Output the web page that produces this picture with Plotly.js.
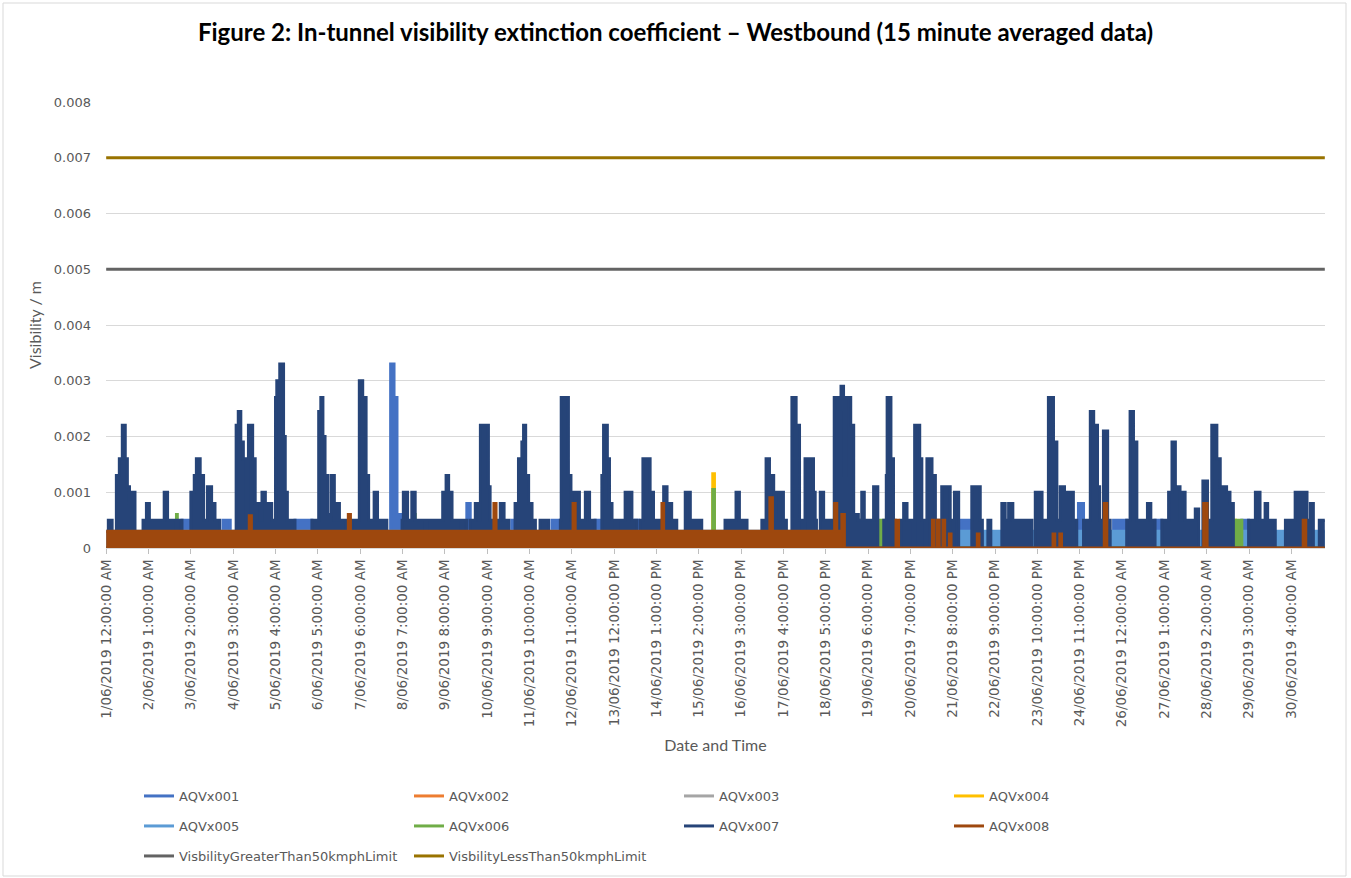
<!DOCTYPE html>
<html><head><meta charset="utf-8">
<script src="https://cdn.plot.ly/plotly-3.0.1.min.js"></script>
<style>html,body{margin:0;padding:0;background:#fff}#chart{width:1351px;height:878px}</style>
</head><body><div id="chart"></div>
<script>
// ---- 15-minute samples, 1 to 30 June 2019 (index 0 .. 2879) ----
const lastIndex = 2879;

// category-axis labels (every 100th sample)
const tickIndex = [0,100,200,300,400,500,600,700,800,900,1000,1100,1200,1300,1400,1500,1600,1700,1800,1900,2000,2100,2200,2300,2400,2500,2600,2700,2800];
const tickLabels = ["1/06/2019 12:00:00 AM","2/06/2019 1:00:00 AM","3/06/2019 2:00:00 AM","4/06/2019 3:00:00 AM","5/06/2019 4:00:00 AM","6/06/2019 5:00:00 AM","7/06/2019 6:00:00 AM","8/06/2019 7:00:00 AM","9/06/2019 8:00:00 AM","10/06/2019 9:00:00 AM","11/06/2019 10:00:00 AM","12/06/2019 11:00:00 AM","13/06/2019 12:00:00 PM","14/06/2019 1:00:00 PM","15/06/2019 2:00:00 PM","16/06/2019 3:00:00 PM","17/06/2019 4:00:00 PM","18/06/2019 5:00:00 PM","19/06/2019 6:00:00 PM","20/06/2019 7:00:00 PM","21/06/2019 8:00:00 PM","22/06/2019 9:00:00 PM","23/06/2019 10:00:00 PM","24/06/2019 11:00:00 PM","26/06/2019 12:00:00 AM","27/06/2019 1:00:00 AM","28/06/2019 2:00:00 AM","29/06/2019 3:00:00 AM","30/06/2019 4:00:00 AM"];
const yTickValues = [0,0.001,0.002,0.003,0.004,0.005,0.006,0.007,0.008];
const yTickLabels = ["0","0.001","0.002","0.003","0.004","0.005","0.006","0.007","0.008"];

// each series: [start sample index, value held until next start]
const aqv001_steps = [[0,0],[179,0.0005],[200,0],[276,0.0005],[293,0],[446,0.0005],[486,0],[672,0.0033],[680,0.0027],[687,0.0006],[699,0],[852,0.0008],[860,0],[958,0.0005],[966,0],[1053,0.0005],[1073,0],[1155,0.0005],[1171,0],[1250,0.0005],[1258,0],[2020,0.0005],[2047,0],[2297,0.0008],[2309,0],[2380,0.0005],[2411,0],[2478,0.0005],[2494,0],[2683,0.0005],[2699,0]];
const aqv002_steps = [[0,0]];
const aqv003_steps = [[0,0]];
const aqv004_steps = [[0,0],[1433,0.00133],[1437,0],[2664,0.0005],[2668,0]];
const aqv005_steps = [[0,0.0003]];
const aqv006_steps = [[0,0],[166,0.0006],[168,0],[728,0.0006],[730,0],[1433,0.00105],[1437,0],[1775,0.0005],[1781,0],[1825,0.0005],[1837,0],[1875,0.00024],[1880,0],[2665,0.0005],[2683,0]];
const aqv007_steps = [
[0,0],[5,0.0005],[14,0],[24,0.0013],[31,0.0016],[38,0.0022],[45,0.0016],[50,0.0011],[55,0.0008],[61,0.001],[68,0],
[87,0.0005],[95,0.0008],[102,0.0005],[137,0.001],[145,0.0005],[165,0],[169,0.0005],[179,0],
[200,0.001],[208,0.0013],[213,0.0016],[222,0.0013],[230,0.0005],[239,0.0011],[249,0.0008],[257,0.0005],[268,0],
[307,0.0022],[312,0.00245],[318,0.0019],[324,0.0016],[331,0.0005],[336,0.0022],[346,0.0016],[352,0.0008],[364,0.0005],[368,0.001],[376,0.0008],[391,0.0005],
[400,0.0027],[403,0.003],[410,0.0033],[419,0.002],[423,0.001],[428,0.0005],[446,0],
[486,0.0005],[502,0.00245],[507,0.0027],[512,0.002],[517,0.0013],[523,0.0006],[531,0.0013],[539,0.0005],[545,0.0008],[551,0.0005],[567,0],
[580,0.0005],[598,0.003],[606,0.0027],[614,0.0013],[620,0.0005],[633,0.001],[641,0.0005],[663,0],
[699,0.0005],[702,0.001],[712,0.0005],[722,0.001],[730,0.0005],[754,0],
[758,0.0005],[795,0.001],[803,0.0013],[809,0.001],[817,0.0005],[838,0],
[843,0.0005],[852,0],[860,0.0005],[872,0.0008],[880,0.0005],[884,0.0022],[903,0.0011],[907,0.0005],[931,0.0008],[940,0.0005],[951,0],
[966,0.0008],[974,0.0016],[982,0.0019],[986,0.0022],[991,0.0013],[998,0.0008],[1006,0.0005],[1014,0],
[1025,0.0005],[1045,0],[1073,0.0005],[1075,0.0027],[1092,0.0013],[1098,0.0005],[1100,0.001],[1118,0.0005],[1132,0.001],[1142,0.0005],[1155,0],
[1171,0.0013],[1175,0.0022],[1184,0.0016],[1189,0.0008],[1195,0.0005],[1203,0],
[1208,0.0005],[1226,0.001],[1242,0.0005],[1254,0],[1262,0.0005],[1268,0.0016],[1285,0.001],[1293,0.0005],[1317,0.0011],[1325,0.0005],[1329,0.0008],[1336,0.0005],[1348,0],
[1368,0.001],[1380,0.0005],[1407,0],
[1462,0.0005],[1488,0.001],[1496,0.0005],[1514,0],
[1549,0.0005],[1559,0.0016],[1567,0.0013],[1577,0.0005],[1583,0.001],[1600,0.0005],[1607,0],
[1620,0.0027],[1630,0.0022],[1638,0.0005],[1644,0],[1651,0.0016],[1671,0.001],[1675,0.0005],[1678,0],
[1687,0.001],[1695,0.0005],[1720,0.0027],[1730,0.0025],[1736,0.0029],[1742,0.0013],[1748,0.0027],[1759,0.0022],[1766,0.0006],[1777,0.0005],
[1785,0.001],[1791,0.0005],[1813,0.0011],[1823,0],[1837,0.0005],[1843,0.0013],[1845,0.0027],[1854,0.0016],[1860,0.0005],[1864,0],
[1878,0.0005],[1884,0.0008],[1892,0.0005],[1905,0],[1910,0.0022],[1922,0.0016],[1927,0.0005],[1935,0],[1939,0.0016],[1951,0.0013],[1959,0.0005],
[1974,0.0011],[1994,0.0005],[2000,0],[2004,0.001],[2014,0],
[2045,0.0011],[2065,0.0005],[2070,0],[2083,0.0005],[2090,0],
[2116,0.0008],[2124,0.0005],[2132,0.0008],[2142,0.0005],[2187,0],
[2195,0.001],[2211,0.0005],[2226,0.0027],[2238,0.0019],[2246,0.0005],[2254,0.0011],[2264,0.001],[2285,0.0005],[2293,0],
[2309,0.0005],[2325,0.00245],[2333,0.0022],[2342,0.0011],[2347,0.0005],[2356,0.0021],[2366,0.0005],[2372,0],
[2411,0.0005],[2419,0.00245],[2427,0.0019],[2435,0.0005],[2460,0.0008],[2468,0.0005],[2478,0],
[2494,0.0005],[2510,0.001],[2518,0.0019],[2526,0.0011],[2537,0.0005],[2541,0.001],[2549,0.0005],[2573,0.0007],[2581,0],
[2591,0.0012],[2602,0.0005],[2612,0.0022],[2624,0.0016],[2632,0.0011],[2647,0.001],[2655,0.0008],[2663,0],
[2699,0.0005],[2715,0.001],[2726,0.0005],[2738,0.0008],[2744,0.0005],[2762,0],
[2786,0.0005],[2809,0.001],[2837,0.0005],[2845,0.0008],[2852,0],[2866,0.0005]];
const aqv008_steps = [[0,0.0003],[338,0.00058],[343,0.0003],[572,0.0006],[577,0.0003],[916,0.0008],[921,0.0003],[1103,0.0008],[1108,0.0003],[1313,0.0008],[1317,0.0003],[1568,0.0009],[1574,0.0003],[1721,0.0008],[1726,0.0003],[1738,0.0006],[1744,0],[1866,0.0005],[1872,0],[1952,0.0005],[1956,0],[1964,0.0005],[1968,0],[1977,0.0005],[1981,0],[1992,0.00025],[1996,0],[2058,0.00025],[2062,0],[2237,0.00025],[2241,0],[2253,0.00025],[2257,0],[2358,0.0008],[2364,0],[2593,0.0008],[2601,0],[2828,0.0005],[2834,0]];
const limitGreater50 = 0.005;
const limitLess50 = 0.007;

const seriesNames = ["AQVx001","AQVx002","AQVx003","AQVx004","AQVx005","AQVx006","AQVx007","AQVx008"];
const seriesColors = ["#4472C4","#ED7D31","#A5A5A5","#FFC000","#5B9BD5","#70AD47","#264478","#9E480E"];
const seriesSteps = [aqv001_steps,aqv002_steps,aqv003_steps,aqv004_steps,aqv005_steps,aqv006_steps,aqv007_steps,aqv008_steps];
const limitNames = ["VisbilityGreaterThan50kmphLimit","VisbilityLessThan50kmphLimit"];
const limitColors = ["#636363","#997300"];

// ---- build traces ----
const traces = [];
seriesSteps.forEach((steps, k) => {
  const x = steps.map(s => s[0]).concat([lastIndex]);
  const y = steps.map(s => s[1]).concat([steps[steps.length-1][1]]);
  traces.push({
    type:'scatter', mode:'lines', name:seriesNames[k], x:x, y:y,
    line:{color:seriesColors[k], width:3, shape:'hv'},
    fill:'tozeroy', fillcolor:seriesColors[k],
    showlegend:false, legendgroup:seriesNames[k], hoverinfo:'skip'
  });
});
[limitGreater50, limitLess50].forEach((v, k) => {
  traces.push({
    type:'scatter', mode:'lines', name:limitNames[k], x:[0,lastIndex], y:[v,v],
    line:{color:limitColors[k], width:3}, showlegend:false, legendgroup:limitNames[k], hoverinfo:'skip'
  });
});
// legend entries (line samples), arranged in three rows like the original
const legendRows = [['legend',[0,1,2,3]],['legend2',[4,5,6,7]]];
legendRows.forEach(([lg, idxs]) => idxs.forEach(k => traces.push({
  type:'scatter', mode:'lines', name:seriesNames[k], x:[null], y:[null],
  line:{color:seriesColors[k], width:3}, legend:lg, legendgroup:seriesNames[k], showlegend:true
})));
[0,1].forEach(k => traces.push({
  type:'scatter', mode:'lines', name:limitNames[k], x:[null], y:[null],
  line:{color:limitColors[k], width:3}, legend:'legend3', legendgroup:limitNames[k], showlegend:true
}));

const L = 106, R = 1325, T = 102, B = 548, W = 1351, H = 878;
const px2x = p => (p - L) / (R - L);
const px2y = p => (B - p) / (B - T);
const legendFont = {family:'DejaVu Sans', size:13, color:'#595959'};
const legendBase = {orientation:'h', xanchor:'left', yanchor:'top', x:px2x(139), entrywidth:225, entrywidthmode:'pixels',
  font:legendFont, bgcolor:'rgba(0,0,0,0)', borderwidth:0, itemclick:false, itemdoubleclick:false, traceorder:'normal'};

const layout = {
  width:W, height:H,
  margin:{l:L, r:W-R, t:T, b:H-B, autoexpand:false},
  paper_bgcolor:'#ffffff', plot_bgcolor:'#ffffff',
  title:{text:'Figure 2: In-tunnel visibility extinction coefficient \u2013 Westbound (15 minute averaged data)',
    x:0.5, xanchor:'center', xref:'container', y:1-33/H, yanchor:'middle', yref:'container',
    font:{family:'Lato', size:24, color:'#000000', weight:700}},
  xaxis:{range:[-0.5, lastIndex+0.5], tickmode:'array', tickvals:tickIndex, ticktext:tickLabels, tickangle:-90,
    ticks:'outside', ticklen:5, tickcolor:'#BFBFBF', showline:true, linecolor:'#D9D9D9', showgrid:false, zeroline:false,
    tickfont:{family:'DejaVu Sans', size:13.5, color:'#595959'},
    title:{text:'Date and Time', font:{family:'Lato', size:16, color:'#595959'}, standoff:13}},
  yaxis:{range:[0,0.008], tickmode:'array', tickvals:yTickValues, ticktext:yTickLabels, showgrid:true, gridcolor:'#D9D9D9', gridwidth:1,
    zeroline:false, showline:false, ticks:'', ticklabelstandoff:14,
    tickfont:{family:'DejaVu Sans', size:13, color:'#595959'},
    title:{text:'Visibility / m', font:{family:'Lato', size:16, color:'#595959'}, standoff:8}},
  legend:Object.assign({}, legendBase, {y:px2y(781)}),
  legend2:Object.assign({}, legendBase, {y:px2y(811)}),
  legend3:Object.assign({}, legendBase, {y:px2y(841)}),
  shapes:[{type:'rect', xref:'paper', yref:'paper', x0:px2x(3), x1:px2x(1346), y0:px2y(876), y1:px2y(3),
    line:{color:'#D9D9D9', width:1}, fillcolor:'rgba(0,0,0,0)', layer:'above'}],
  showlegend:true
};

Plotly.newPlot('chart', traces, layout, {displayModeBar:false, staticPlot:true});
</script>
</body></html>
